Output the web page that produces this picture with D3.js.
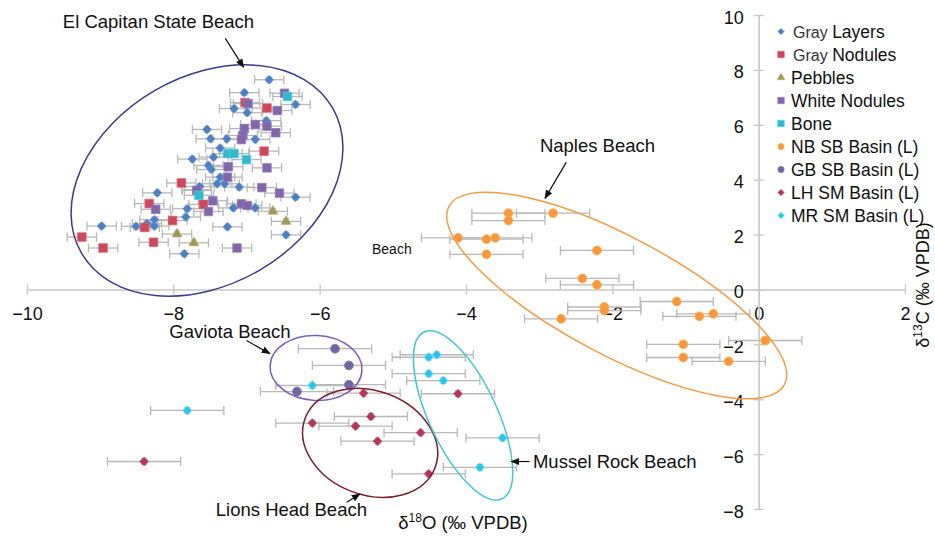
<!DOCTYPE html>
<html><head><meta charset="utf-8">
<script src="https://cdn.jsdelivr.net/npm/d3@7"></script>
<style>
body{margin:0;background:#fff;}
svg{display:block;font-family:"Liberation Sans",Arial,Helvetica,sans-serif;}
</style></head><body>
<svg id="chart" width="935" height="536"></svg>
<script>
// Stable isotope pairs [δ18O, δ13C] (‰ VPDB)
const grayLayers = [
  [-6.69,7.64],[-7.03,7.17],[-6.33,6.74],[-7.17,6.59],[-6.99,6.44],[-6.73,6.15],
  [-7.54,5.83],[-7.49,5.49],[-7.27,5.49],[-6.88,5.47],[-7.36,5.15],[-7.74,4.75],
  [-7.45,4.82],[-7.52,4.52],[-7.48,4.37],[-7.36,4.09],[-7.40,3.85],[-7.30,3.85],
  [-7.10,3.73],[-7.64,3.75],[-8.22,3.52],[-6.33,3.36],[-7.18,2.97],[-6.88,2.97],
  [-7.81,2.94],[-7.83,2.64],[-8.26,2.54],[-8.98,2.31],[-8.51,2.30],[-8.26,2.31],
  [-7.26,2.28],[-6.46,1.99],[-7.85,1.30],[-7.68,3.63],[-8.36,2.40]
];
const grayNodules = [
  [-7.02,6.81],[-6.72,6.61],[-6.76,5.04],[-7.89,3.88],[-7.59,3.10],[-8.33,3.13],
  [-8.01,2.51],[-8.39,2.26],[-9.25,1.91],[-8.27,1.72],[-8.96,1.51]
];
const pebbles = [[-6.64,2.85],[-6.46,2.48],[-7.95,2.02],[-7.72,1.70]];
const whiteNodules = [
  [-6.48,7.15],[-6.98,6.77],[-6.58,6.52],[-6.88,6.01],[-6.72,5.95],[-6.60,5.71],
  [-7.03,5.86],[-7.05,5.61],[-7.07,5.46],[-6.72,4.43],[-7.25,4.47],[-7.26,4.09],
  [-6.79,3.71],[-6.55,3.51],[-7.46,3.23],[-7.52,2.84],[-7.07,3.12],[-6.99,3.06],
  [-7.13,1.51],[-8.24,2.92],[-7.68,3.61]
];
const bone = [[-6.44,7.03],[-7.26,4.95],[-7.17,4.95],[-7.00,4.73],[-7.65,3.43]];
const nbSB = [
  [-3.42,2.78],[-3.42,2.51],[-2.81,2.78],[-4.11,1.88],[-3.72,1.83],[-3.60,1.88],
  [-3.72,1.28],[-2.21,1.42],[-2.41,0.40],[-2.21,0.17],[-1.12,-0.44],[-2.11,-0.64],
  [-2.11,-0.77],[-0.62,-0.89],[-0.81,-0.98],[-2.70,-1.07],[-1.03,-2.00],[-1.03,-2.48],
  [-0.41,-2.62],[0.09,-1.86]
];
const gbSB = [[-5.79,-2.16],[-5.60,-2.77],[-5.60,-3.47],[-6.31,-3.72]];
const lhSM = [
  [-5.40,-3.78],[-4.11,-3.80],[-5.30,-4.63],[-6.10,-4.87],[-5.51,-4.98],
  [-4.62,-5.22],[-5.21,-5.53],[-8.40,-6.27],[-4.51,-6.72]
];
const mrSM = [
  [-4.51,-2.47],[-4.40,-2.38],[-4.51,-3.07],[-4.31,-3.32],[-6.10,-3.50],
  [-7.81,-4.41],[-3.50,-5.41],[-3.81,-6.48]
];
// analytical uncertainty (±) on each axis
const xErrCoast = 0.2, xErrBasin = 0.5, yErrAll = 0.1;

const xTicks = [-10,-8,-6,-4,-2,0,2];
const yTicks = [10,8,6,4,2,0,-2,-4,-6,-8];

// beach groupings: centre [δ18O, δ13C], radii px, rotation deg
const groups = [
  {label:"El Capitan State Beach", c:[-7.54,3.97], rx:145, ry:104, rot:-30, color:"#3c3b8c"},
  {label:"Naples Beach", c:[-1.94,-0.22], rx:190, ry:59, rot:28, color:"#f59b46"},
  {label:"Gaviota Beach", c:[-6.05,-2.86], rx:46, ry:32.5, rot:3, color:"#7d5fc0"},
  {label:"Lions Head Beach", c:[-5.31,-5.59], rx:69.5, ry:52, rot:21, color:"#7a1f30"},
  {label:"Mussel Rock Beach", c:[-4.04,-4.59], rx:92, ry:34, rot:65, color:"#43c6d1"}
];
// label anchor and arrow [from, to] in data units
const labels = [
  {text:"El Capitan State Beach", at:[-9.51,9.51], from:[-7.29,9.15], to:[-7.04,8.10]},
  {text:"Naples Beach", at:[-2.99,5.0], from:[-2.63,4.63], to:[-2.92,3.32]},
  {text:"Gaviota Beach", at:[-8.055,-1.76], from:[-7.00,-1.86], to:[-6.68,-2.34]},
  {text:"Lions Head Beach", at:[-7.42,-8.24], from:[-5.63,-7.75], to:[-5.45,-7.45]},
  {text:"Mussel Rock Beach", at:[-3.085,-6.505], from:[-3.13,-6.27], to:[-3.38,-6.27]}
];
const strayLabel = {text:"Beach", at:[-5.285,1.28]};

const series = [
  {name:["Gray","Layers"], data:grayLayers, shape:"diamond", fill:"#4f7fbf", xErr:xErrCoast},
  {name:["Gray","Nodules"], data:grayNodules, shape:"square", fill:"#c94a5b", xErr:xErrCoast},
  {name:["","Pebbles"], data:pebbles, shape:"triangle", fill:"#9e985a", xErr:xErrCoast},
  {name:["","White Nodules"], data:whiteNodules, shape:"square", fill:"#8068a8", xErr:xErrCoast},
  {name:["","Bone"], data:bone, shape:"square", fill:"#36b8c8", xErr:xErrCoast},
  {name:["","NB SB Basin (L)"], data:nbSB, shape:"circle", fill:"#f7983f", xErr:xErrBasin},
  {name:["","GB SB Basin (L)"], data:gbSB, shape:"circle", fill:"#73659d", xErr:xErrBasin},
  {name:["","LH SM Basin (L)"], data:lhSM, shape:"diamond", fill:"#b0395a", xErr:xErrBasin},
  {name:["","MR SM Basin (L)"], data:mrSM, shape:"diamond", fill:"#2cc2ee", xErr:xErrBasin}
];

const svg = d3.select("#chart");
const x = d3.scaleLinear().domain([-10,2]).range([27,905]);
const y = d3.scaleLinear().domain([-8,10]).range([509,15]);
const axisColor = "#c9c9c9";

// axes crossing at the origin
const gx = svg.append("g").attr("transform",`translate(0,${y(0)})`)
  .call(d3.axisBottom(x).tickValues(xTicks).tickSize(5).tickSizeOuter(0).tickPadding(13));
const gy = svg.append("g").attr("transform",`translate(${x(0)},0)`)
  .call(d3.axisLeft(y).tickValues(yTicks).tickSize(5).tickSizeOuter(0).tickPadding(10));
[gx,gy].forEach(g=>{
  g.select(".domain").attr("stroke",axisColor).attr("stroke-width",1.6);
  g.selectAll(".tick line").attr("stroke",axisColor).attr("stroke-width",1.4);
  g.selectAll(".tick text").attr("fill","#111").style("font-size","18px")
    .style("font-family",'"Liberation Sans",Arial,sans-serif');
});
gx.selectAll(".tick line").attr("y1",-5).attr("y2",5);
gy.selectAll(".tick line").attr("x1",-5).attr("x2",5);
gy.selectAll(".tick text").attr("dy","0.45em");

// error bars
const errColor = "#b9b9b9";
const eb = svg.append("g").attr("stroke",errColor).attr("stroke-width",1.3).attr("fill","none");
series.forEach(s=>{
  s.data.forEach(d=>{
    const px = x(d[0]), py = y(d[1]);
    const x0 = x(d[0]-s.xErr), x1 = x(d[0]+s.xErr);
    const y0 = y(d[1]-yErrAll), y1 = y(d[1]+yErrAll);
    eb.append("line").attr("x1",x0).attr("x2",x1).attr("y1",py).attr("y2",py);
    eb.append("line").attr("x1",x0).attr("x2",x0).attr("y1",py-4.5).attr("y2",py+4.5);
    eb.append("line").attr("x1",x1).attr("x2",x1).attr("y1",py-4.5).attr("y2",py+4.5);
    eb.append("line").attr("x1",px).attr("x2",px).attr("y1",y0).attr("y2",y1);
    eb.append("line").attr("x1",px-3).attr("x2",px+3).attr("y1",y0).attr("y2",y0);
    eb.append("line").attr("x1",px-3).attr("x2",px+3).attr("y1",y1).attr("y2",y1);
  });
});

// marker shapes
const symType = {diamond:d3.symbolSquare, square:d3.symbolSquare, triangle:d3.symbolTriangle, circle:d3.symbolCircle};
const symSize = {diamond:38, square:72, triangle:42, circle:62};
const legSize = {diamond:19, square:40, triangle:24, circle:30};
function drawSymbol(g, shape, fill, cx, cy, size){
  const p = d3.symbol().type(symType[shape]).size(size)();
  const rot = shape==="diamond" ? 45 : 0;
  g.append("path").attr("d",p)
    .attr("transform",`translate(${cx},${cy}) rotate(${rot})`)
    .attr("fill",fill)
    .attr("stroke",d3.color(fill).brighter(0.4)).attr("stroke-width",0.8);
}
const mk = svg.append("g");
series.forEach(s=>{
  s.data.forEach(d=>drawSymbol(mk, s.shape, s.fill, x(d[0]), y(d[1]), symSize[s.shape]));
});

// beach grouping ellipses
svg.append("g").selectAll("ellipse").data(groups).join("ellipse")
  .attr("transform",d=>`translate(${x(d.c[0])},${y(d.c[1])}) rotate(${d.rot})`)
  .attr("rx",d=>d.rx).attr("ry",d=>d.ry)
  .attr("fill","none").attr("stroke",d=>d.color).attr("stroke-width",1.5);

// annotation arrows and labels
svg.append("defs").append("marker").attr("id","arrowhead")
  .attr("viewBox","0 0 10 10").attr("refX",9).attr("refY",5)
  .attr("markerWidth",9).attr("markerHeight",9).attr("markerUnits","userSpaceOnUse")
  .attr("orient","auto")
  .append("path").attr("d","M0,1 L10,5 L0,9 Z").attr("fill","#111");
const ann = svg.append("g");
labels.forEach(l=>{
  ann.append("line")
    .attr("x1",x(l.from[0])).attr("y1",y(l.from[1]))
    .attr("x2",x(l.to[0])).attr("y2",y(l.to[1]))
    .attr("stroke","#111").attr("stroke-width",1.2).attr("marker-end","url(#arrowhead)");
  ann.append("text").attr("x",x(l.at[0])).attr("y",y(l.at[1]))
    .attr("fill","#111").style("font-size","18.5px").text(l.text);
});
ann.append("text").attr("x",x(strayLabel.at[0])).attr("y",y(strayLabel.at[1]))
  .attr("fill","#111").style("font-size","14px").text(strayLabel.text);

// axis titles
const xt = svg.append("text").attr("x",463).attr("y",529).attr("text-anchor","middle")
  .attr("fill","#111").style("font-size","18.5px");
xt.append("tspan").text("δ");
xt.append("tspan").attr("dy",-7).style("font-size","12px").text("18");
xt.append("tspan").attr("dy",7).text("O (‰ VPDB)");
const yt = svg.append("text").attr("transform","translate(929,285) rotate(-90)")
  .attr("text-anchor","middle").attr("fill","#111").style("font-size","18px");
yt.append("tspan").text("δ");
yt.append("tspan").attr("dy",-7).style("font-size","12px").text("13");
yt.append("tspan").attr("dy",7).text("C (‰ VPDB)");

// legend
const leg = svg.append("g");
series.forEach((s,i)=>{
  const cy = 31.5 + i*23;
  drawSymbol(leg, s.shape, s.fill, 781, cy, legSize[s.shape]);
  const t = leg.append("text").attr("x",791).attr("y",cy+6.3).attr("fill","#111")
    .style("font-size","17.5px");
  if (s.name[0]) {
    t.append("tspan").attr("dx",2).style("font-size","16px").attr("fill","#333").text(s.name[0]+" ");
  }
  t.append("tspan").text(s.name[1]);
});
</script>
</body></html>
